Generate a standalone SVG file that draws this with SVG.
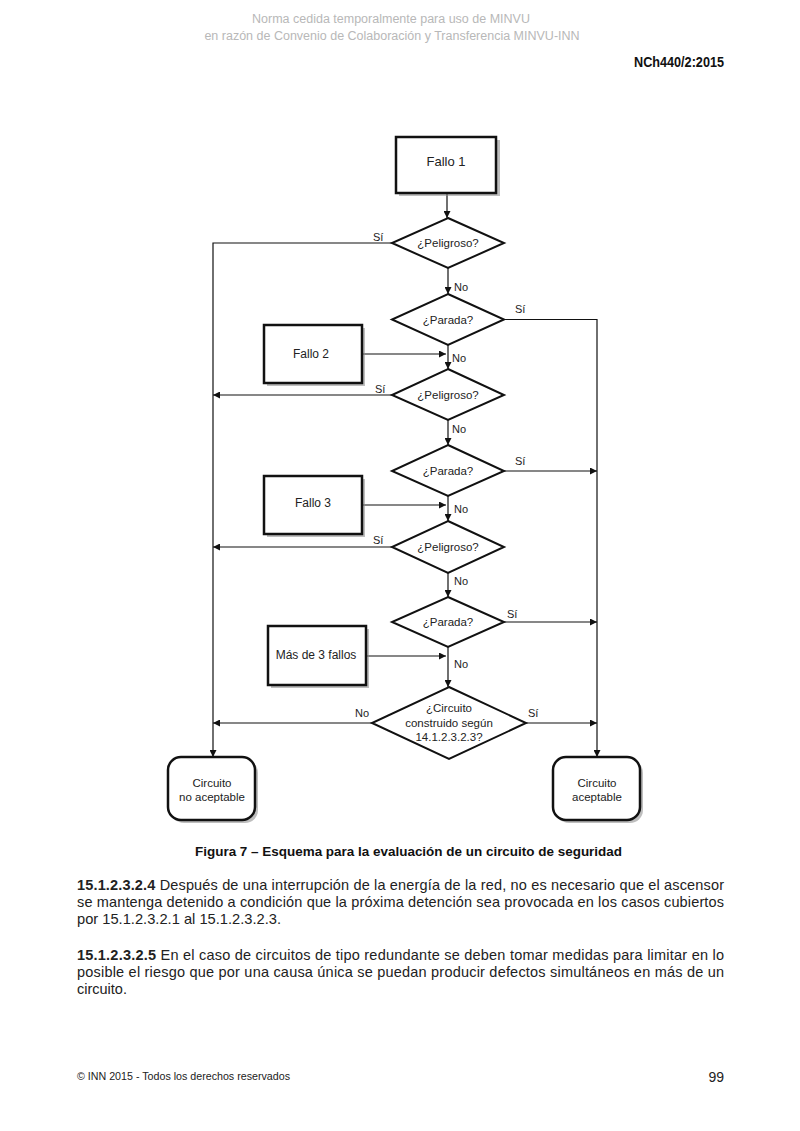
<svg xmlns="http://www.w3.org/2000/svg" width="800" height="1131" viewBox="0 0 800 1131">
<defs>
<marker id="ah" viewBox="0 0 10 10" refX="10" refY="5" markerWidth="7" markerHeight="7" markerUnits="userSpaceOnUse" orient="auto">
<path d="M0,0 L10,5 L0,10 z" fill="#111"/>
</marker>
<style>
.t{font-family:"Liberation Sans",Arial,sans-serif;fill:#222}
.n{font-size:11.5px;text-anchor:middle}
.lb{font-size:11px}
.box{fill:#fff;stroke:#111;stroke-width:2.5}
.sh{fill:#888;opacity:0.55}
.dia{fill:#fff;stroke:#111;stroke-width:2}
.c{fill:none;stroke:#111;stroke-width:1.2}
.p{font-size:14.5px;fill:#222}
</style>
</defs>
<rect width="800" height="1131" fill="#fff"/>
<g id="header">
<text class="t" x="391" y="23" font-size="12.5" text-anchor="middle" style="fill:#b8b8b8">Norma cedida temporalmente para uso de MINVU</text>
<text class="t" x="392" y="40" font-size="12.5" text-anchor="middle" style="fill:#b8b8b8">en razón de Convenio de Colaboración y Transferencia MINVU-INN</text>
<text class="t" x="724" y="67" font-size="14" font-weight="bold" text-anchor="end" textLength="90" lengthAdjust="spacingAndGlyphs" style="fill:#111">NCh440/2:2015</text>
</g>
<g id="connectors">
<line class="c" x1="447" y1="194" x2="447" y2="218" marker-end="url(#ah)"/>
<line class="c" x1="448" y1="268" x2="448" y2="294" marker-end="url(#ah)"/>
<polyline class="c" points="392,243 213,243 213,757" marker-end="url(#ah)"/>
<polyline class="c" points="504,319.5 597,319.5 597,757" marker-end="url(#ah)"/>
<line class="c" x1="448" y1="345" x2="448" y2="369" marker-end="url(#ah)"/>
<line class="c" x1="363" y1="354" x2="446" y2="354" marker-end="url(#ah)"/>
<line class="c" x1="392" y1="395" x2="213" y2="395" marker-end="url(#ah)"/>
<line class="c" x1="448" y1="420" x2="448" y2="445" marker-end="url(#ah)"/>
<line class="c" x1="504" y1="471" x2="597" y2="471" marker-end="url(#ah)"/>
<line class="c" x1="448" y1="496" x2="448" y2="521" marker-end="url(#ah)"/>
<line class="c" x1="363" y1="505" x2="446" y2="505" marker-end="url(#ah)"/>
<line class="c" x1="392" y1="547" x2="213" y2="547" marker-end="url(#ah)"/>
<line class="c" x1="448" y1="573" x2="448" y2="597" marker-end="url(#ah)"/>
<line class="c" x1="504" y1="622" x2="597" y2="622" marker-end="url(#ah)"/>
<line class="c" x1="448" y1="647" x2="448" y2="687" marker-end="url(#ah)"/>
<line class="c" x1="363" y1="656" x2="446" y2="656" marker-end="url(#ah)"/>
<line class="c" x1="372" y1="723" x2="213" y2="723" marker-end="url(#ah)"/>
<line class="c" x1="526" y1="723" x2="597" y2="723" marker-end="url(#ah)"/>
<text class="t lb" x="373" y="241">Sí</text>
<text class="t lb" x="454" y="291">No</text>
<text class="t lb" x="515" y="313">Sí</text>
<text class="t lb" x="452" y="362">No</text>
<text class="t lb" x="375" y="393">Sí</text>
<text class="t lb" x="452" y="433">No</text>
<text class="t lb" x="515" y="465">Sí</text>
<text class="t lb" x="454" y="513">No</text>
<text class="t lb" x="373" y="544">Sí</text>
<text class="t lb" x="454" y="585">No</text>
<text class="t lb" x="507" y="618">Sí</text>
<text class="t lb" x="454" y="668">No</text>
<text class="t lb" x="355" y="717">No</text>
<text class="t lb" x="528" y="717">Sí</text>
</g>
<g id="fallo1">
<rect class="sh" x="399" y="140" width="101" height="56"/>
<rect class="box" x="396" y="137" width="100" height="56"/>
<text class="t" x="446" y="166" font-size="13" text-anchor="middle">Fallo 1</text>
</g>
<g id="peligroso1">
<polygon class="dia" points="448,218 504,243 448,268 392,243"/>
<text class="t n" x="448" y="247">¿Peligroso?</text>
</g>
<g id="parada1">
<polygon class="dia" points="448,294 504,319.5 448,345 392,319.5"/>
<text class="t n" x="448" y="323.5">¿Parada?</text>
</g>
<g id="fallo2">
<rect class="sh" x="267" y="328" width="98" height="58"/>
<rect class="box" x="264" y="325" width="98" height="58"/>
<text class="t" x="311" y="358" font-size="12" text-anchor="middle">Fallo 2</text>
</g>
<g id="peligroso2">
<polygon class="dia" points="448,369 504,395 448,420 392,395"/>
<text class="t n" x="448" y="399">¿Peligroso?</text>
</g>
<g id="parada2">
<polygon class="dia" points="448,445 504,471 448,496 392,471"/>
<text class="t n" x="448" y="475">¿Parada?</text>
</g>
<g id="fallo3">
<rect class="sh" x="267" y="479" width="98" height="58"/>
<rect class="box" x="264" y="476" width="98" height="58"/>
<text class="t" x="313" y="507" font-size="12" text-anchor="middle">Fallo 3</text>
</g>
<g id="peligroso3">
<polygon class="dia" points="448,521 504,547 448,573 392,547"/>
<text class="t n" x="448" y="551">¿Peligroso?</text>
</g>
<g id="parada3">
<polygon class="dia" points="448,597 504,622 448,647 392,622"/>
<text class="t n" x="448" y="626">¿Parada?</text>
</g>
<g id="mas3fallos">
<rect class="sh" x="271" y="629" width="98" height="59"/>
<rect class="box" x="268" y="626" width="98" height="59"/>
<text class="t" x="316" y="659" font-size="12" text-anchor="middle">Más de 3 fallos</text>
</g>
<g id="circuito">
<polygon class="dia" points="449,687 526,723 449,759 372,723"/>
<text class="t n" x="449" y="712">¿Circuito</text>
<text class="t n" x="449" y="727">construido según</text>
<text class="t n" x="449" y="741">14.1.2.3.2.3?</text>
</g>
<g id="noaceptable">
<rect class="sh" x="171" y="760" width="87" height="63" rx="13"/>
<rect class="box" x="168" y="757" width="87" height="63" rx="13"/>
<text class="t n" x="212" y="787" font-size="11">Circuito</text>
<text class="t n" x="212" y="801" font-size="11">no aceptable</text>
</g>
<g id="aceptable">
<rect class="sh" x="556" y="760" width="87" height="63" rx="13"/>
<rect class="box" x="553" y="757" width="87" height="63" rx="13"/>
<text class="t n" x="597" y="787" font-size="11">Circuito</text>
<text class="t n" x="597" y="801" font-size="11">aceptable</text>
</g>
<g id="caption">
<text class="t" x="195" y="856" font-size="13" font-weight="bold" textLength="427" lengthAdjust="spacingAndGlyphs" style="fill:#111">Figura 7 – Esquema para la evaluación de un circuito de seguridad</text>
</g>
<g id="body">
<text class="t p" x="77" y="890" textLength="647" lengthAdjust="spacing"><tspan font-weight="bold">15.1.2.3.2.4</tspan> Después de una interrupción de la energía de la red, no es necesario que el ascensor</text>
<text class="t p" x="77" y="907" textLength="647" lengthAdjust="spacing">se mantenga detenido a condición que la próxima detención sea provocada en los casos cubiertos</text>
<text class="t p" x="77" y="924" textLength="204" lengthAdjust="spacingAndGlyphs">por 15.1.2.3.2.1 al 15.1.2.3.2.3.</text>
<text class="t p" x="77" y="960" textLength="647" lengthAdjust="spacing"><tspan font-weight="bold">15.1.2.3.2.5</tspan> En el caso de circuitos de tipo redundante se deben tomar medidas para limitar en lo</text>
<text class="t p" x="77" y="977" textLength="647" lengthAdjust="spacing">posible el riesgo que por una causa única se puedan producir defectos simultáneos en más de un</text>
<text class="t p" x="77" y="994">circuito.</text>
</g>
<g id="footer">
<text class="t" x="77" y="1080" font-size="11" textLength="213" lengthAdjust="spacingAndGlyphs">© INN 2015 - Todos los derechos reservados</text>
<text class="t" x="724" y="1082" font-size="14" text-anchor="end">99</text>
</g>
</svg>
